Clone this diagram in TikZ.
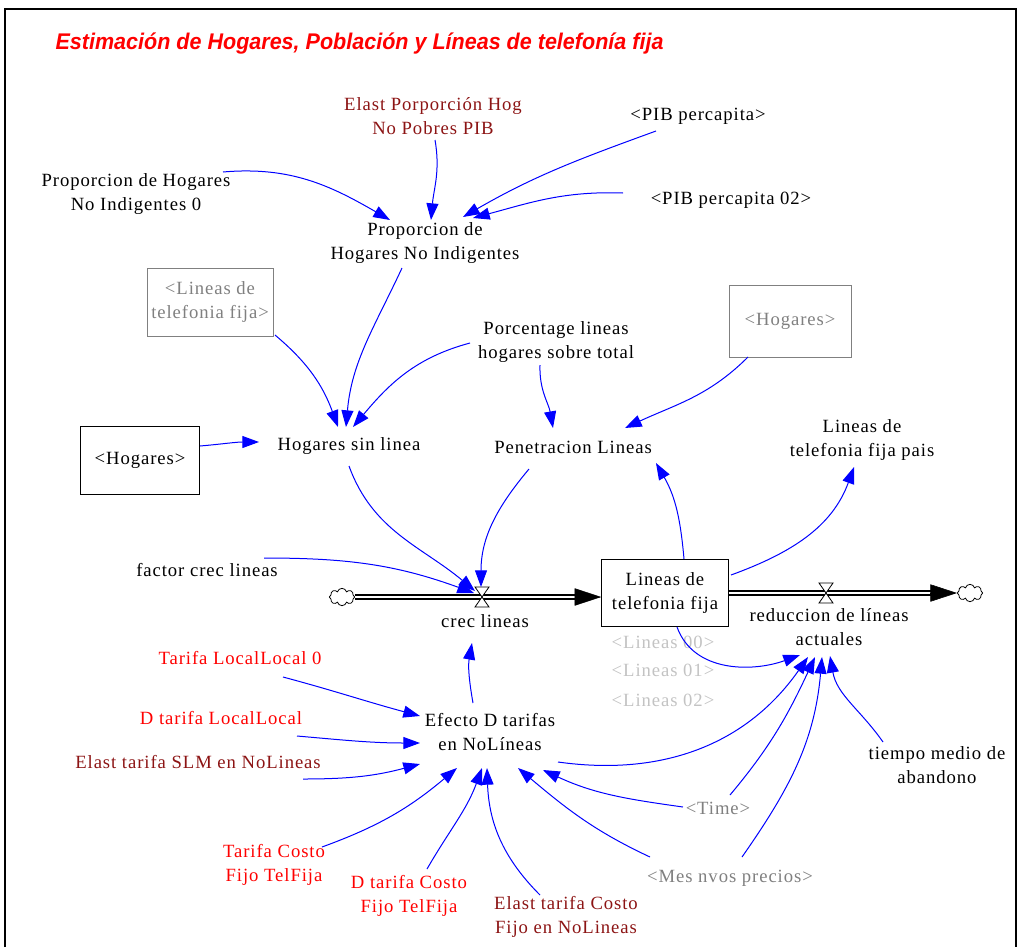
\documentclass[tikz,border=0pt]{standalone}
\usepackage{fontspec}
\setmainfont{Liberation Serif}[LetterSpace=5]
\newfontfamily\titlefont{Liberation Sans}[FakeStretch=0.95]
\usetikzlibrary{arrows.meta,calc,shapes.symbols}
\definecolor{oscuro}{RGB}{140,20,20}
\definecolor{sombra}{RGB}{128,128,128}
\definecolor{claro}{RGB}{195,195,195}
\begin{document}
\begin{tikzpicture}[x=0.75pt,y=0.75pt,
  every node/.style={align=center,inner sep=1pt,font=\fontsize{14}{18}\selectfont},
  caja/.style={draw,line width=0.6pt,inner sep=0pt},
  link/.style={draw=blue,line width=0.75pt,-{Triangle[length=12.5pt,width=9pt]}},
  pipe/.style={double,double distance=2pt,line width=0.9pt,shorten >=12pt},
  flowtip/.style={-{Triangle[length=20pt,width=13pt]},line width=0.4pt},
  nube/.style={cloud,draw,cloud puffs=8,line width=0.6pt,minimum width=19pt,minimum height=13pt,inner sep=0pt},
  valve/.style={fill=white,line width=0.6pt}]
\useasboundingbox (0,0) rectangle (1021,-947);
\draw[line width=2.2pt] (5,-947) -- (5,-9) -- (1016,-9) -- (1016,-947);

\node[anchor=west,text=red,font=\titlefont\bfseries\itshape\fontsize{17}{20}\selectfont] (tit) at (54,-44) {Estimación de Hogares, Población y Líneas de telefonía fija};

\node[text=oscuro] (elast) at (433,-116) {Elast Porporción Hog\\No Pobres PIB};
\node (pibpc) at (698,-116) {<PIB percapita>};
\node (pni0) at (136,-194) {Proporcion de Hogares\\No Indigentes 0};
\node (pib02) at (731,-200) {<PIB percapita 02>};
\node (pni) at (425,-243) {Proporcion de\\Hogares No Indigentes};
\node[caja,draw=sombra,text=sombra,minimum width=94.5pt,minimum height=51pt] (linref) at (210,-302) {<Lineas de\\telefonia fija>};
\node (porc) at (556,-342) {Porcentage lineas\\hogares sobre total};
\node[caja,draw=sombra,text=sombra,minimum width=91.5pt,minimum height=54pt] (hogref) at (790,-321) {<Hogares>};
\node[caja,minimum width=89pt,minimum height=51pt] (hogbox) at (140,-460) {<Hogares>};
\node (hsl) at (349,-446) {Hogares sin linea};
\node (pen) at (573,-447) {Penetracion Lineas};
\node (lfp) at (862,-440) {Lineas de\\telefonia fija pais};
\node (fcl) at (207,-570) {factor crec lineas};

\node[nube] (cloudL) at (342,-597) {};
\node[nube] (cloudR) at (970,-593) {};
\node[caja,minimum width=95pt,minimum height=50pt] (stock) at (665,-593) {Lineas de\\telefonia fija};
\coordinate (v1) at (482,-597);
\coordinate (v2) at (826,-593);
\node (crec) at (485,-621) {crec lineas};
\node (redl) at (829,-627) {reduccion de líneas\\actuales};

\node[text=claro] (l00) at (663,-642) {<Lineas 00>};
\node[text=claro] (l01) at (663,-670) {<Lineas 01>};
\node[text=claro] (l02) at (663,-700) {<Lineas 02>};

\node[text=red] (tll0) at (240,-658) {Tarifa LocalLocal 0};
\node[text=red] (dtll) at (221,-718) {D tarifa LocalLocal};
\node[text=oscuro] (esl) at (198,-762) {Elast tarifa SLM en NoLineas};
\node (efecto) at (490,-732) {Efecto D tarifas\\en NoLíneas};
\node (tmed) at (937,-765) {tiempo medio de\\abandono};
\node[text=sombra] (time) at (718,-808) {<Time>};
\node[text=red] (tcf) at (274,-865) {Tarifa Costo\\Fijo TelFija};
\node[text=red] (dtcf) at (409,-896) {D tarifa Costo\\Fijo TelFija};
\node[text=oscuro] (etcf) at (566,-917) {Elast tarifa Costo\\Fijo en NoLineas};
\node[text=sombra] (mes) at (730,-878) {<Mes nvos precios>};

\draw[pipe] (cloudL.east) -- (cloudL -| stock.west);
\draw[flowtip] ($(cloudL -| stock.west)+(-2,0)$) -- (cloudL -| stock.west);
\draw[pipe] (stock.east |- cloudR) -- (cloudR.west);
\draw[flowtip] ($(cloudR.west)+(-2,0)$) -- (cloudR.west);
\draw[valve] (v1) +(-7,10) -- +(7,10) -- +(-7,-10) -- +(7,-10) -- cycle;
\draw[valve] (v2) +(-7,10) -- +(7,10) -- +(-7,-10) -- +(7,-10) -- cycle;

\draw[link] ($(pni0)+(87,22)$) to[out=5,in=150] ($(pni)+(-35,23)$);
\draw[link] ($(elast)+(2,-24)$) to[out=-80,in=85] ($(pni)+(6,23)$);
\draw[link] ($(pibpc)+(-42,-15)$) to[out=200,in=30] ($(pni)+(38,26)$);
\draw[link] ($(pib02)+(-108,7)$) to[out=178,in=15] ($(pni)+(48,25)$);
\draw[link] ($(pni)+(-23,-25)$) to[out=-115,in=85] ($(hsl)+(-3,19)$);
\draw[link] ($(linref)+(65,-33)$) to[out=-40,in=110] ($(hsl)+(-11,19)$);
\draw[link] ($(porc)+(-86,-1)$) to[out=195,in=50] ($(hsl)+(4,19)$);
\draw[link] ($(hogbox)+(60,14)$) to[out=5,in=180] ($(hsl)+(-90,4)$);
\draw[link] ($(porc)+(-16,-23)$) to[out=-92,in=100] ($(pen)+(-20,19)$);
\draw[link] ($(hogref)+(-42,-36)$) to[out=-135,in=25] ($(pen)+(52,19)$);
\draw[link] ($(hsl)+(0,-20)$) to[out=-70,in=140] ($(v1)+(-7,6)$);
\draw[link] ($(pen)+(-44,-22)$) to[out=-130,in=90] ($(v1)+(-1,10)$);
\draw[link] ($(fcl)+(57,12)$) to[out=0,in=160] ($(v1)+(-8,4)$);
\draw[link] ($(efecto)+(-17,29)$) to[out=100,in=-100] ($(crec)+(-13,-22)$);
\draw[link] ($(stock)+(19,34)$) to[out=95,in=-60] ($(pen)+(83,-16)$);
\draw[link] ($(stock)+(66,18)$) to[out=20,in=-110] ($(lfp)+(-8,-27)$);
\draw[link] ($(stock)+(12,-34)$) to[out=-70,in=200] ($(redl)+(-29,-28)$);
\draw[link] ($(efecto)+(68,-30)$) to[out=-8,in=235] ($(redl)+(-21,-30)$);
\draw[link] ($(time)+(12,13)$) to[out=50,in=245] ($(redl)+(-14,-30)$);
\draw[link] ($(mes)+(12,21)$) to[out=55,in=-95] ($(redl)+(-7,-30)$);
\draw[link] ($(tmed)+(-54,23)$) to[out=125,in=-80] ($(redl)+(1,-29)$);
\draw[link] ($(tll0)+(43,-19)$) to[out=-15,in=165] ($(efecto)+(-70,16)$);
\draw[link] ($(dtll)+(76,-18)$) to[out=-5,in=180] ($(efecto)+(-70,-11)$);
\draw[link] ($(esl)+(105,-17)$) to[out=0,in=195] ($(efecto)+(-70,-32)$);
\draw[link] ($(tcf)+(48,18)$) to[out=20,in=220] ($(efecto)+(-33,-36)$);
\draw[link] ($(dtcf)+(18,27)$) to[out=60,in=250] ($(efecto)+(-8,-36)$);
\draw[link] ($(etcf)+(-26,22)$) to[out=135,in=-88] ($(efecto)+(-3,-36)$);
\draw[link] ($(time)+(-35,1)$) to[out=172,in=-25] ($(efecto)+(53,-38)$);
\draw[link] ($(mes)+(-80,21)$) to[out=155,in=-40] ($(efecto)+(28,-36)$);
\end{tikzpicture}
\end{document}
